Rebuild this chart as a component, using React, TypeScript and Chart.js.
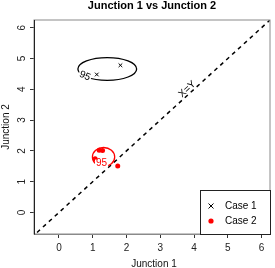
import React, { useEffect, useRef } from "react";
import { Chart, registerables } from "chart.js";

Chart.register(...registerables);

const title = "Junction 1 vs Junction 2";
const xLabel = "Junction 1";
const yLabel = "Junction 2";
const xTicks = [0, 1, 2, 3, 4, 5, 6];
const yTicks = [0, 1, 2, 3, 4, 5, 6];
const xRange = [-0.74, 6.25];
const yRange = [-0.7, 6.25];

const case1X = [1.12, 1.82];
const case1Y = [4.48, 4.78];
const case2X = [1.07, 1.19, 1.29, 1.74];
const case2Y = [1.74, 2.02, 2.01, 1.51];

// ellipse: centre x, centre y, radius x, radius y
const ellipse1 = [1.43, 4.66, 0.87, 0.37];
const ellipse2 = [1.32, 1.8, 0.33, 0.31];
const identityLine = [-1, 7];
const legendLabels = ["Case 1", "Case 2"];

const FONT = '"Liberation Sans", Arial, Helvetica, sans-serif';

const overlay = {
  id: "overlay",
  afterDatasetsDraw(chart: any) {
    const ctx = chart.ctx as CanvasRenderingContext2D;
    const xs = chart.scales.x;
    const ys = chart.scales.y;
    const ca = chart.chartArea;
    const px = (v: number) => xs.getPixelForValue(v);
    const py = (v: number) => ys.getPixelForValue(v);
    ctx.save();

    // frame
    ctx.strokeStyle = "#8a8a8a";
    ctx.lineWidth = 1;
    ctx.strokeRect(ca.left, ca.top, ca.right - ca.left, ca.bottom - ca.top);
    ctx.strokeStyle = "#222";
    ctx.beginPath();
    ctx.moveTo(ca.left + 0.5, ca.top);
    ctx.lineTo(ca.left + 0.5, ca.bottom);
    ctx.stroke();

    // ellipses
    const drawEllipse = (e: number[], color: string) => {
      const cx = px(e[0]);
      const cy = py(e[1]);
      const rx = Math.abs(px(e[0] + e[2]) - cx);
      const ry = Math.abs(py(e[1] + e[3]) - cy);
      ctx.strokeStyle = color;
      ctx.lineWidth = 1.3;
      ctx.beginPath();
      ctx.ellipse(cx, cy, rx, ry, 0, 0, Math.PI * 2);
      ctx.stroke();
      return { cx, cy, rx, ry };
    };
    const e1 = drawEllipse(ellipse1, "#000");
    const e2 = drawEllipse(ellipse2, "#ff0000");

    const label95 = (x: number, y: number, ang: number, color: string) => {
      ctx.save();
      ctx.translate(x, y);
      ctx.rotate(ang);
      ctx.font = `10px ${FONT}`;
      const w = ctx.measureText("95").width;
      ctx.fillStyle = "#fff";
      ctx.fillRect(-w / 2 - 1, -4, w + 2, 8);
      ctx.fillStyle = color;
      ctx.textAlign = "center";
      ctx.textBaseline = "middle";
      ctx.fillText("95", 0, 0);
      ctx.restore();
    };
    label95(e1.cx - e1.rx + 7, e1.cy + 7, 0.4, "#000");
    label95(e2.cx - 2, e2.cy + e2.ry - 3, 0, "#ff0000");

    // X=Y label
    const ang = Math.atan2(py(4) - py(3), px(4) - px(3));
    ctx.save();
    ctx.translate(px(3.8), py(4.0));
    ctx.rotate(ang);
    ctx.font = `10px ${FONT}`;
    ctx.fillStyle = "#000";
    ctx.textAlign = "center";
    ctx.textBaseline = "middle";
    ctx.fillText("X=Y", 0, 0);
    ctx.restore();

    // y tick labels rotated
    ctx.font = `10px ${FONT}`;
    ctx.fillStyle = "#222";
    ctx.textAlign = "center";
    ctx.textBaseline = "middle";
    for (const v of yTicks) {
      ctx.save();
      ctx.translate(ca.left - 12, py(v));
      ctx.rotate(-Math.PI / 2);
      ctx.fillText(String(v), 0, 0);
      ctx.restore();
    }

    // axis titles
    ctx.fillStyle = "#111";
    ctx.font = `10px ${FONT}`;
    ctx.fillText(xLabel, (ca.left + ca.right) / 2 + 2, 264);
    ctx.save();
    ctx.translate(6, (ca.top + ca.bottom) / 2);
    ctx.rotate(-Math.PI / 2);
    ctx.fillText(yLabel, 0, 0);
    ctx.restore();

    // title
    ctx.font = `bold 11px ${FONT}`;
    ctx.fillStyle = "#000";
    ctx.fillText(title, (ca.left + ca.right) / 2, 6);

    // legend
    const lx = 200;
    const ly = 190;
    ctx.fillStyle = "#fff";
    ctx.fillRect(lx, ly, ca.right - lx, ca.bottom - ly);
    ctx.strokeStyle = "#222";
    ctx.lineWidth = 1;
    ctx.strokeRect(lx + 0.5, ly + 0.5, ca.right - lx, ca.bottom - ly);
    // cross
    ctx.strokeStyle = "#000";
    ctx.beginPath();
    ctx.moveTo(208.5, 203.5);
    ctx.lineTo(213.5, 208.5);
    ctx.moveTo(213.5, 203.5);
    ctx.lineTo(208.5, 208.5);
    ctx.stroke();
    ctx.fillStyle = "#ff0000";
    ctx.beginPath();
    ctx.arc(211, 221, 2.6, 0, Math.PI * 2);
    ctx.fill();
    ctx.fillStyle = "#000";
    ctx.font = `10px ${FONT}`;
    ctx.textAlign = "left";
    ctx.fillText(legendLabels[0], 225, 206);
    ctx.fillText(legendLabels[1], 225, 221);

    ctx.restore();
  },
};

export default function App() {
  const ref = useRef<HTMLCanvasElement>(null);
  useEffect(() => {
    if (!ref.current) return;
    const chart = new Chart(ref.current, {
      type: "scatter",
      data: {
        datasets: [
          {
            type: "line",
            label: "X=Y",
            data: identityLine.map((v) => ({ x: v, y: v })),
            borderColor: "#000",
            borderWidth: 1.5,
            borderDash: [4, 4],
            pointRadius: 0,
            fill: false,
          } as any,
          {
            label: legendLabels[0],
            data: case1X.map((x, i) => ({ x, y: case1Y[i] })),
            pointStyle: "crossRot",
            pointRadius: 2.6,
            borderColor: "#000",
            borderWidth: 1,
          },
          {
            label: legendLabels[1],
            data: case2X.map((x, i) => ({ x, y: case2Y[i] })),
            pointStyle: "circle",
            pointRadius: 2.5,
            backgroundColor: "#ff0000",
            borderColor: "#ff0000",
            borderWidth: 0,
          },
        ],
      },
      options: {
        animation: false,
        responsive: false,
        maintainAspectRatio: false,
        layout: { padding: { top: 20, right: 1, left: 0, bottom: 0 } },
        plugins: {
          legend: { display: false },
          tooltip: { enabled: false },
          title: { display: false },
        },
        scales: {
          x: {
            type: "linear",
            min: xRange[0],
            max: xRange[1],
            afterBuildTicks: (s: any) => {
              s.ticks = xTicks.map((v) => ({ value: v }));
            },
            afterFit: (s: any) => {
              s.height = 34;
            },
            grid: { drawOnChartArea: false, drawTicks: true, tickLength: 4, color: "#333" },
            border: { display: true, color: "#8a8a8a" },
            ticks: {
              font: { size: 10, family: FONT },
              color: "#222",
              padding: 4,
              maxRotation: 0,
            },
          },
          y: {
            type: "linear",
            min: yRange[0],
            max: yRange[1],
            afterBuildTicks: (s: any) => {
              s.ticks = yTicks.map((v) => ({ value: v }));
            },
            afterFit: (s: any) => {
              s.width = 34;
            },
            grid: { drawOnChartArea: false, drawTicks: true, tickLength: 4, color: "#333" },
            border: { display: true, color: "#222" },
            ticks: { display: false },
          },
        },
      },
      plugins: [overlay],
    });
    return () => chart.destroy();
  }, []);
  return (
    <div style={{ position: "fixed", left: 0, top: 0, width: 275, height: 268, background: "#fff" }}>
      <canvas ref={ref} width={275} height={268} style={{ display: "block" }} />
    </div>
  );
}
